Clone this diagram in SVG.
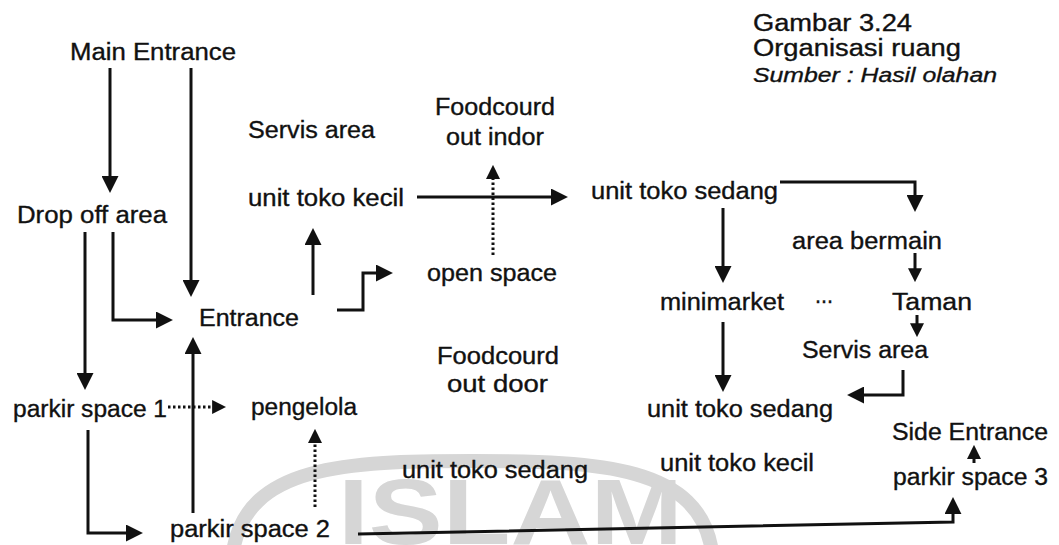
<svg xmlns="http://www.w3.org/2000/svg" width="1059" height="545" viewBox="0 0 1059 545">
<style>
text{font-family:"Liberation Sans",Arial,sans-serif;font-size:23px;fill:#111;stroke:#111;stroke-width:0.35px}
.it{font-style:italic;font-size:21px}
.c{fill:none;stroke:#111;stroke-width:3}
.d{fill:none;stroke:#111;stroke-width:3;stroke-dasharray:2.5 2.5}
.wm{fill:none;stroke:#d6d6d6;stroke-width:14}
.wt{font-family:"Liberation Sans",Arial,sans-serif;font-weight:bold;font-size:92px;fill:#d6d6d6;stroke:none}
</style>
<defs>
<marker id="ah" viewBox="0 0 16 16" refX="1" refY="8" markerWidth="17" markerHeight="17" markerUnits="userSpaceOnUse" orient="auto"><path d="M0,0 L16,8 L0,16 z" fill="#111"/></marker>
<marker id="as" viewBox="0 0 16 16" refX="1" refY="8" markerWidth="14" markerHeight="14" markerUnits="userSpaceOnUse" orient="auto"><path d="M0,0 L16,8 L0,16 z" fill="#111"/></marker>
</defs>
<rect width="1059" height="545" fill="#fff"/>
<g id="watermark">
<path class="wm" d="M233,552 C246,465 346,461 473,461 C600,461 700,466 712,552"/>
<text class="wt" x="338" y="544" textLength="345" lengthAdjust="spacingAndGlyphs">ISLAM</text>
</g>
<g id="title">
<text x="753" y="31" textLength="159" lengthAdjust="spacingAndGlyphs">Gambar 3.24</text>
<text x="753" y="56" textLength="208" lengthAdjust="spacingAndGlyphs">Organisasi ruang</text>
<text class="it" x="753" y="82" textLength="244" lengthAdjust="spacingAndGlyphs">Sumber : Hasil olahan</text>
</g>
<g id="main-entrance"><text x="70" y="60" textLength="166" lengthAdjust="spacingAndGlyphs">Main Entrance</text></g>
<g id="drop-off"><text x="17" y="223" textLength="150" lengthAdjust="spacingAndGlyphs">Drop off area</text></g>
<g id="servis-area-1"><text x="248" y="138" textLength="127" lengthAdjust="spacingAndGlyphs">Servis area</text></g>
<g id="unit-toko-kecil-1"><text x="248" y="206" textLength="156" lengthAdjust="spacingAndGlyphs">unit toko kecil</text></g>
<g id="foodcourd-indor"><text x="435" y="115" textLength="120" lengthAdjust="spacingAndGlyphs">Foodcourd</text><text x="446" y="145" textLength="98" lengthAdjust="spacingAndGlyphs">out indor</text></g>
<g id="unit-toko-sedang-1"><text x="591" y="199" textLength="187" lengthAdjust="spacingAndGlyphs">unit toko sedang</text></g>
<g id="open-space"><text x="427" y="281" textLength="130" lengthAdjust="spacingAndGlyphs">open space</text></g>
<g id="area-bermain"><text x="792" y="249" textLength="150" lengthAdjust="spacingAndGlyphs">area bermain</text></g>
<g id="minimarket"><text x="660" y="310" textLength="124" lengthAdjust="spacingAndGlyphs">minimarket</text></g>
<g id="ellipsis"><text x="815" y="303" textLength="18" lengthAdjust="spacingAndGlyphs">...</text></g>
<g id="taman"><text x="892" y="310" textLength="80" lengthAdjust="spacingAndGlyphs">Taman</text></g>
<g id="servis-area-2"><text x="802" y="358" textLength="126" lengthAdjust="spacingAndGlyphs">Servis area</text></g>
<g id="unit-toko-sedang-2"><text x="647" y="417" textLength="186" lengthAdjust="spacingAndGlyphs">unit toko sedang</text></g>
<g id="side-entrance"><text x="892" y="440" textLength="156" lengthAdjust="spacingAndGlyphs">Side Entrance</text></g>
<g id="unit-toko-kecil-2"><text x="660" y="471" textLength="154" lengthAdjust="spacingAndGlyphs">unit toko kecil</text></g>
<g id="parkir-3"><text x="893" y="485" textLength="155" lengthAdjust="spacingAndGlyphs">parkir space 3</text></g>
<g id="entrance"><text x="199" y="326" textLength="100" lengthAdjust="spacingAndGlyphs">Entrance</text></g>
<g id="parkir-1"><text x="13" y="417" textLength="154" lengthAdjust="spacingAndGlyphs">parkir space 1</text></g>
<g id="pengelola"><text x="251" y="415" textLength="106" lengthAdjust="spacingAndGlyphs">pengelola</text></g>
<g id="parkir-2"><text x="170" y="537" textLength="160" lengthAdjust="spacingAndGlyphs">parkir space 2</text></g>
<g id="foodcourd-outdoor"><text x="437" y="364" textLength="122" lengthAdjust="spacingAndGlyphs">Foodcourd</text><text x="447" y="392" textLength="101" lengthAdjust="spacingAndGlyphs">out door</text></g>
<g id="unit-toko-sedang-3"><text x="402" y="478" textLength="186" lengthAdjust="spacingAndGlyphs">unit toko sedang</text></g>
<g id="connectors">
<path class="c" d="M110,68 V177" marker-end="url(#ah)"/>
<path class="c" d="M191,68 V281" marker-end="url(#ah)"/>
<path class="c" d="M113,232 V320 H157" marker-end="url(#ah)"/>
<path class="c" d="M85,232 V374" marker-end="url(#ah)"/>
<path class="c" d="M193,513 V353" marker-end="url(#ah)"/>
<path class="c" d="M88,430 V533 H127" marker-end="url(#ah)"/>
<path class="d" d="M168,407 H213" marker-end="url(#as)"/>
<path class="d" d="M315,507 V442" marker-end="url(#as)"/>
<path class="c" d="M313,295 V244" marker-end="url(#ah)"/>
<path class="c" d="M337,310 H363 V273 H377" marker-end="url(#ah)"/>
<path class="c" d="M417,197 H552" marker-end="url(#ah)"/>
<path class="d" d="M493,255 V178" marker-end="url(#as)"/>
<path class="c" d="M723,208 V267" marker-end="url(#ah)"/>
<path class="c" d="M780,182 H915 V196" marker-end="url(#ah)"/>
<path class="c" d="M915,253 V269" marker-end="url(#as)"/>
<path class="c" d="M917,315 V324" marker-end="url(#as)"/>
<path class="c" d="M903,370 V395 H863" marker-end="url(#ah)"/>
<path class="c" d="M723,322 V376" marker-end="url(#ah)"/>
<path class="c" d="M974,463 V458" marker-end="url(#as)"/>
<path class="c" d="M358,534 L953,522 V513" marker-end="url(#ah)"/>
</g>
</svg>
